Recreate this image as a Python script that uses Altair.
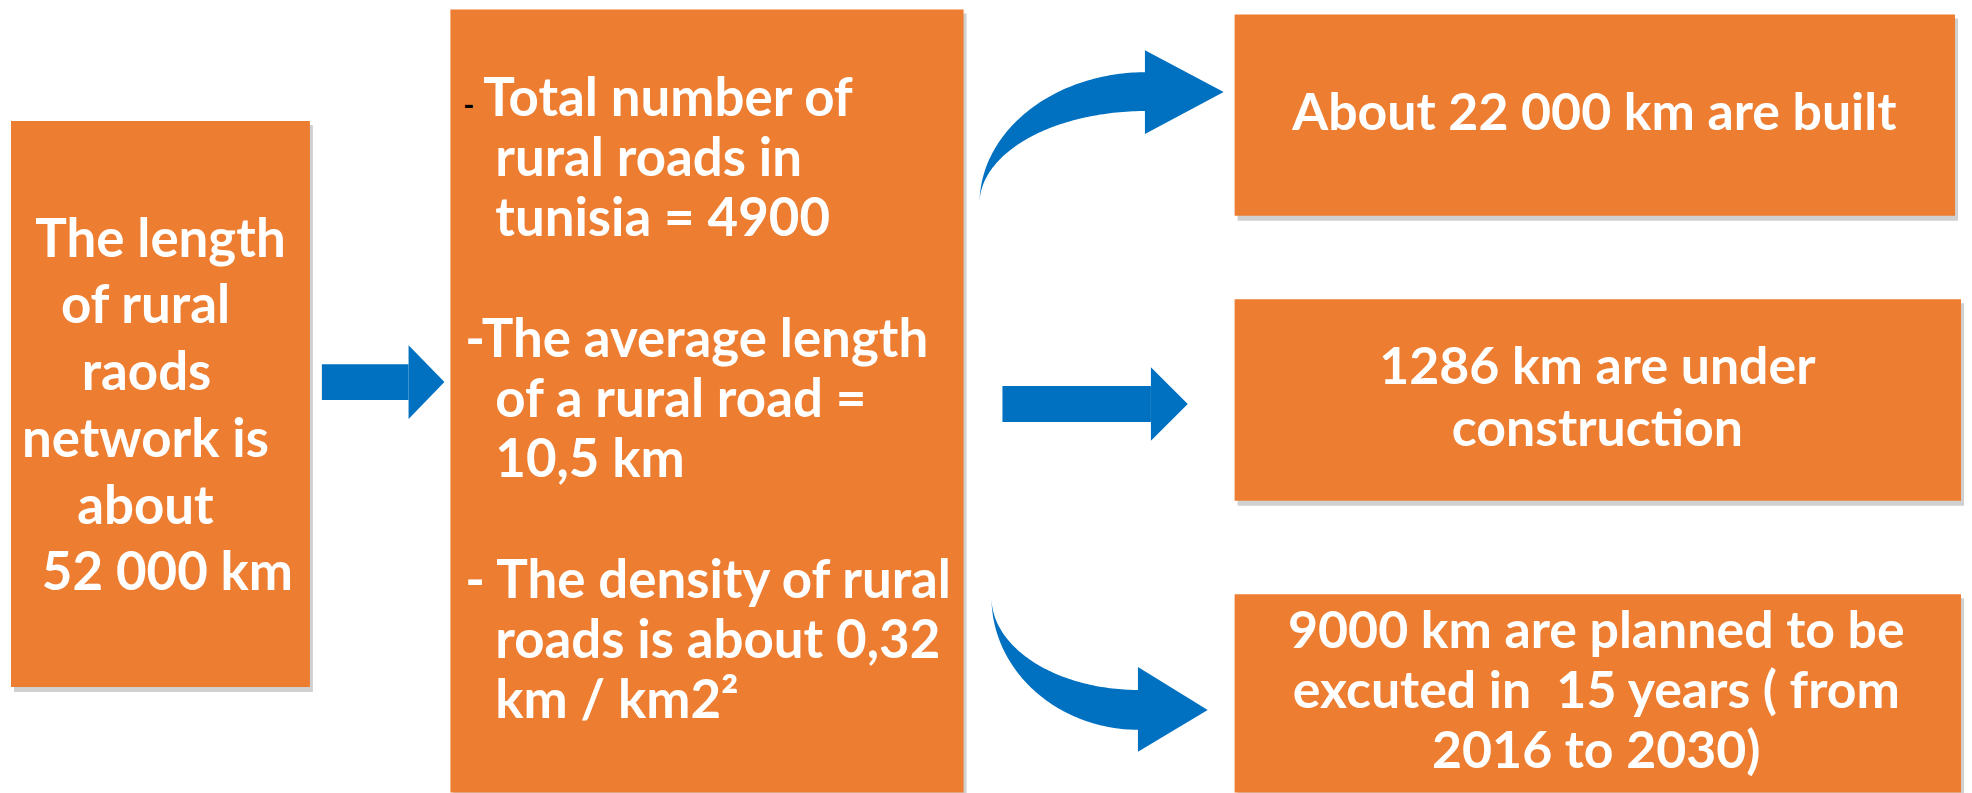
import altair as alt
import numpy as np
import pandas as pd

NB = "\u00a0"
# ---------------- content ----------------
left_lines = ["The length", "of rural", "raods", "network is", "about", "52 000 km"]
middle_lines = ["Total number of", "rural roads in", "tunisia = 4900", "",
                "-The average length", "of a rural road =", "10,5 km", "",
                "- The density of rural", "roads is about 0,32", "km / km2²"]
box_a_lines = ["About 22 000 km are built"]
box_b_lines = ["1286 km are under", "construction"]
box_c_lines = ["9000 km are planned to be", "excuted in " + NB + "15 years ( from", "2016 to 2030)"]

# ---------------- layout (page pixels) ----------------
ORANGE = "#ED7D31"
BLUE = "#0070C0"
FONT = "Lato"

boxes = pd.DataFrame({
    "name": ["left", "middle", "a", "b", "c"],
    "x": [11, 452, 1239, 1239, 1239],
    "x2": [311, 967, 1962, 1968, 1968],
    "y": [119, 7, 12, 298, 594],
    "y2": [687, 793, 214, 500, 793],
})
shadow = boxes.assign(x=boxes.x + 3, x2=boxes.x2 + 3, y=boxes.y + 4, y2=boxes.y2 + 5)

texts = []
left_x = [161, 146, 147, 146, 146, 168]
for i, t in enumerate(left_lines):
    texts.append({"t": t, "x": left_x[i], "y": 255 + 67 * i, "al": "center", "fs": 53})
mid_x = [485, 497, 497, 497, 467, 497, 497, 497, 467, 497, 497]
for i, t in enumerate(middle_lines):
    if t:
        texts.append({"t": t, "x": mid_x[i], "y": 114 + 60.4 * i, "al": "left", "fs": 53})
for i, t in enumerate(box_a_lines):
    texts.append({"t": t, "x": 1600, "y": 128 + 62 * i, "al": "center", "fs": 52})
for i, t in enumerate(box_b_lines):
    texts.append({"t": t, "x": 1603, "y": 383 + 62 * i, "al": "center", "fs": 52})
for i, t in enumerate(box_c_lines):
    texts.append({"t": t, "x": 1602, "y": 648 + 60 * i, "al": "center", "fs": 52})
texts = pd.DataFrame(texts)
dash = pd.DataFrame({"t": ["-"], "x": [465], "y": [114]})

# arrows: shafts (rects) and heads / curved bodies (areas)
shafts = pd.DataFrame({"x": [323, 1006], "x2": [410, 1155], "y": [363, 385], "y2": [399, 421]})

rows = []
def tri(name, bx, top, bot, tx, ty):
    rows.append({"s": name, "x": bx, "y": top, "y2": bot})
    rows.append({"s": name, "x": tx, "y": ty, "y2": ty})

tri("h1", 410, 344, 418, 446, 381)
tri("h2", 1155, 366, 440, 1192, 403)
tri("h3", 1149, 48, 132, 1228, 90)
tri("h4", 1142, 667, 752, 1212, 710)

def curve(name, cx, cy, rx, ry_out, ry_in, sign):
    t = np.linspace(0, np.pi / 2, 80)
    for tt in t:
        rows.append({"s": name, "x": float(cx - rx * np.cos(tt)),
                     "y": float(cy + sign * ry_out * np.sin(tt)),
                     "y2": float(cy + sign * ry_in * np.sin(tt))})

curve("c3", 1150, 202, 167, 132, 93, -1)
curve("c4", 1143, 597, 148, 133, 93, 1)
areas = pd.DataFrame(rows)

# ---------------- chart ----------------
XS = alt.Scale(domain=[8, 1964], nice=False, zero=False)
YS = alt.Scale(domain=[8, 793], nice=False, zero=False, reverse=True)
X = lambda f: alt.X(f, type="quantitative", scale=XS, axis=None)
Y = lambda f: alt.Y(f, type="quantitative", scale=YS, axis=None, stack=None)

shadow_layer = alt.Chart(shadow).mark_rect(color="#a9a9a9", opacity=0.55).encode(
    x=X("x"), x2="x2", y=Y("y"), y2="y2")
box_layer = alt.Chart(boxes).mark_rect(color=ORANGE).encode(
    x=X("x"), x2="x2", y=Y("y"), y2="y2")
shaft_layer = alt.Chart(shafts).mark_rect(color=BLUE).encode(
    x=X("x"), x2="x2", y=Y("y"), y2="y2")
area_layer = alt.Chart(areas).mark_area(color=BLUE, orient="vertical", opacity=1).encode(
    x=X("x"), y=Y("y"), y2=alt.Y2("y2"), detail=alt.Detail("s:N"))

def text_layer(align):
    return alt.Chart(texts[texts["al"] == align]).mark_text(
        font=FONT, fontWeight="bold", color="white",
        align=align, baseline="alphabetic").encode(
        x=X("x"), y=Y("y"), text="t:N",
        size=alt.Size("fs:Q", scale=None, legend=None))

dash_layer = alt.Chart(dash).mark_text(
    font=FONT, fontWeight="bold", fontSize=30, color="black",
    align="left", baseline="alphabetic").encode(x=X("x"), y=Y("y"), text="t:N")

chart = alt.layer(shadow_layer, box_layer, shaft_layer, area_layer,
                  text_layer("center"), text_layer("left"), dash_layer).properties(
    width=1956, height=785, padding=0, background="white"
).configure_view(stroke=None)

chart.save("out.html", embed_options={"renderer": "svg", "actions": False})
